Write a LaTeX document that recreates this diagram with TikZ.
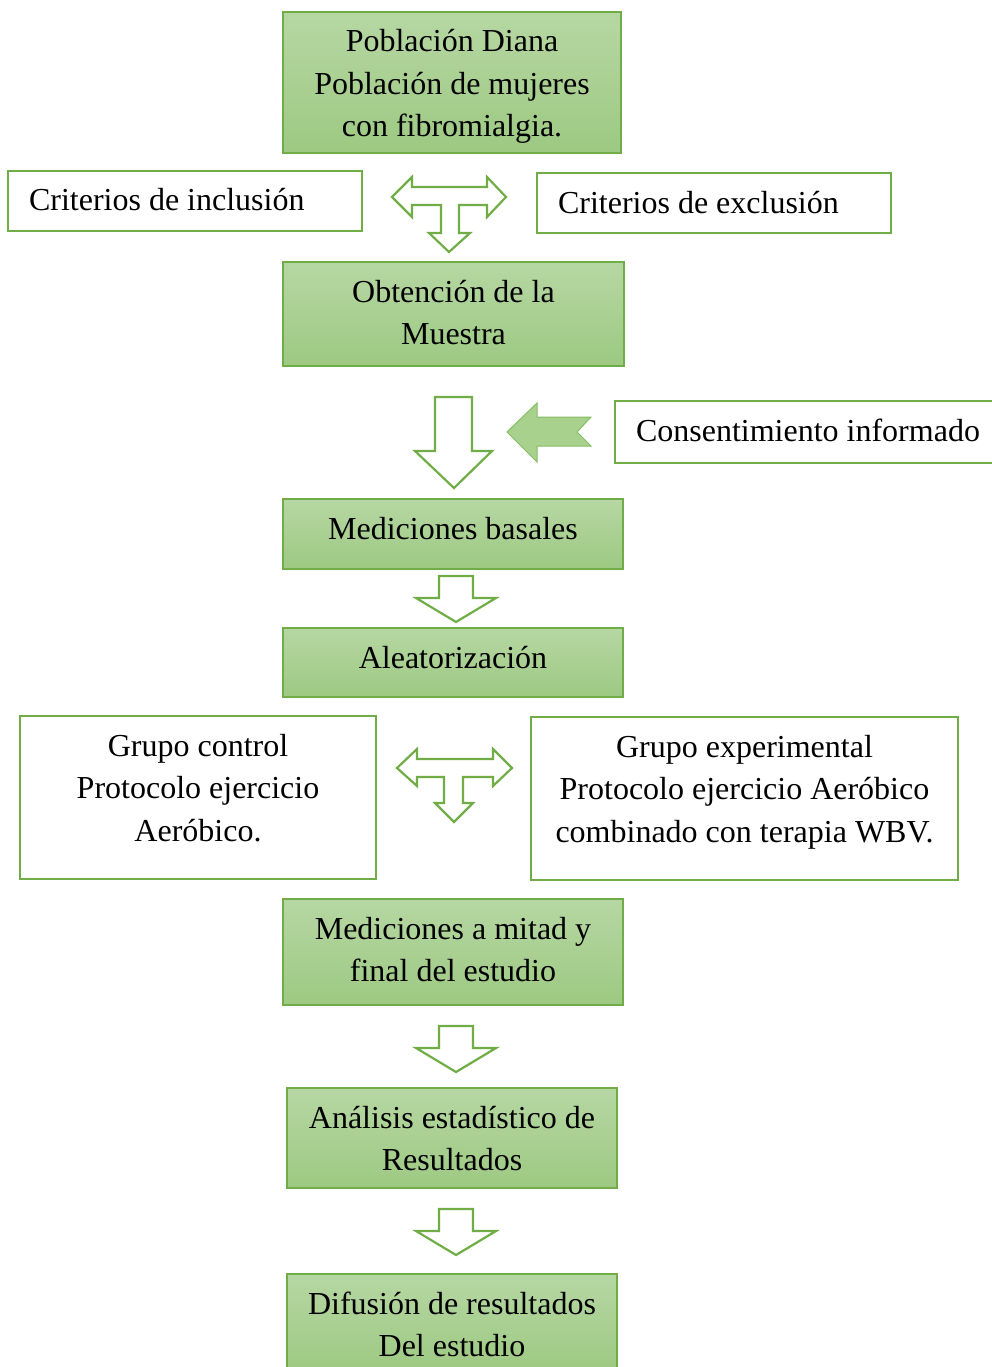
\documentclass[tikz,border=0pt]{standalone}
\usepackage{fontspec}
\setmainfont{Liberation Serif}
\definecolor{gborder}{HTML}{70AD47}
\definecolor{gtop}{HTML}{B6D7A3}
\definecolor{gbot}{HTML}{9DC982}
\definecolor{afill}{HTML}{A9D18E}
\definecolor{aborder}{HTML}{84BD62}
\tikzset{
  base/.style={font=\fontsize{32}{42.5}\selectfont, inner ysep=0pt, inner xsep=10pt, align=flush center, text height=40pt},
  gbox/.style={base, draw=gborder, line width=1.3pt, top color=gtop, bottom color=gbot},
  wbox/.style={base, draw=gborder, line width=2pt, fill=white},
  lbox/.style={wbox, align=flush left, inner xsep=21pt},
  garrow/.style={draw=gborder, line width=2.2pt, fill=white, line join=miter},
  farrow/.style={draw=aborder, line width=1pt, fill=afill},
}
\begin{document}
\begin{tikzpicture}[x=1pt,y=-1pt]
\useasboundingbox (0,0) rectangle (992,1367);
% green boxes
\node[gbox, text width=318pt, minimum height=141pt, text depth=101pt] (pob) at (452,82.5) {Población Diana\\Población de mujeres\\con fibromialgia.};
\node[gbox, text width=321pt, minimum height=104pt, text depth=64pt] (obt) at (453.5,314) {Obtención de la\\Muestra};
\node[gbox, text width=320pt, minimum height=70pt, text depth=30pt] (bas) at (453,534) {Mediciones basales};
\node[gbox, text width=320pt, minimum height=69pt, text depth=29pt] (ale) at (453,662.5) {Aleatorización};
\node[gbox, text width=320pt, minimum height=106pt, text depth=66pt] (mit) at (453,952) {Mediciones a mitad y\\final del estudio};
\node[gbox, text width=310pt, minimum height=100pt, text depth=60pt] (ana) at (452,1138) {Análisis estadístico de\\Resultados};
\node[gbox, text width=310pt, minimum height=98pt, text depth=58pt] (dif) at (452,1323) {Difusión de resultados\\Del estudio};
% white boxes
\node[lbox, text width=312pt, minimum height=60pt, text depth=20pt] (inc) at (185,201) {Criterios de inclusión};
\node[lbox, text width=312pt, minimum height=60pt, text depth=20pt] (exc) at (714,203) {Criterios de exclusión};
\node[lbox, text width=358pt, minimum height=62pt, text depth=22pt] (con) at (815,432) {Consentimiento informado};
\node[wbox, text width=336pt, minimum height=163pt, text depth=123pt] (gc) at (198,797.5) {Grupo control\\Protocolo ejercicio\\Aeróbico.};
\node[wbox, text width=407pt, minimum height=163pt, text depth=123pt] (ge) at (744.5,798.5) {Grupo experimental\\Protocolo ejercicio Aeróbico\\combinado con terapia WBV.};
% T arrows
\draw[garrow] (392,197) -- (412,177) -- (412,187) -- (487,187) -- (487,177) -- (506,197) -- (487,217) -- (487,205) -- (459,205) -- (459,233) -- (470,233) -- (449,252) -- (429,233) -- (441,233) -- (441,205) -- (412,205) -- (412,217) -- cycle;
\draw[garrow] (397,768) -- (417,749) -- (417,759) -- (493,759) -- (493,749) -- (512,768) -- (493,786) -- (493,777) -- (463,777) -- (463,803) -- (473,803) -- (454,822) -- (435,803) -- (444,803) -- (444,777) -- (417,777) -- (417,786) -- cycle;
% big down arrow
\draw[garrow] (435,397) -- (472,397) -- (472,451) -- (492,451) -- (454,488) -- (415,451) -- (435,451) -- cycle;
% left filled arrow
\draw[farrow] (507,432) -- (537,403) -- (537,417) -- (591,417) -- (577,432) -- (591,446) -- (537,446) -- (537,462) -- cycle;
% small down arrows
\foreach \yy in {576,1026,1209}{
  \draw[garrow] (439,\yy) -- (473,\yy) -- (473,\yy+22) -- (496,\yy+22) -- (456,\yy+46) -- (416,\yy+22) -- (439,\yy+22) -- cycle;
}
\end{tikzpicture}
\end{document}
